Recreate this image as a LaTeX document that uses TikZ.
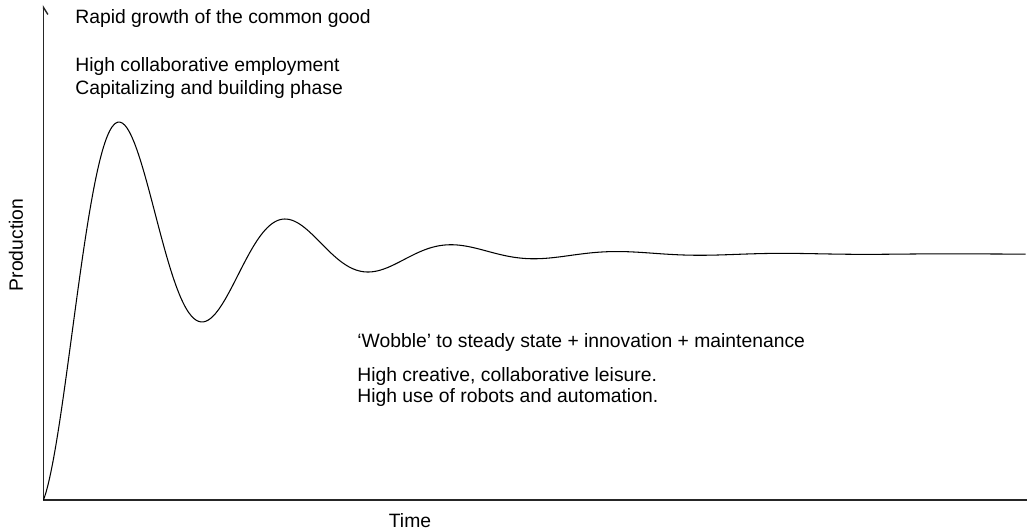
\documentclass[tikz,border=0pt]{standalone}
\usepackage{fontspec}
\setmainfont{Liberation Sans}
\usetikzlibrary{positioning,arrows.meta}

\tikzset{
  note/.style={anchor=west, inner sep=0pt, font=\fontsize{11}{13}\selectfont},
  axis/.style={line width=0.8pt, draw=black!85}
}

\begin{document}
\begin{tikzpicture}[x=0.02cm, y=0.02cm, node distance=0.46cm]
        \useasboundingbox (-43.5,-31) rectangle (983.5,500);

        % Axes
        \coordinate (origin) at (0,0);
        \coordinate (ytop) at (0,495);
        \coordinate (xend) at (983.5,0);
        \draw[axis, -{Straight Barb[right, length=4pt, width=5pt]}] (origin) -- (ytop);
        \draw[axis] (origin) -- (xend);

        % Axis labels
        \node[note, anchor=center] (time) at (366.5,-21) {Time};
        \node[note, anchor=center, rotate=90] (prod) at (-27.5,255) {Production};

        % Damped curve
        \draw[line width=0.6pt, domain=0:982, samples=400, smooth]
          plot (\x, {246 - 246.7*exp(-0.0080*\x)*cos(2.1687*(\x+2))});

        % Early phase
        \node[note] (growth) at (31.5,481) {Rapid growth of the common good};
        \node[note, below=0.96cm of growth.west, anchor=west] (employ) {High collaborative employment};
        \node[note, below=of employ.west, anchor=west] (capital) {Capitalizing and building phase};

        % Steady state
        \node[note] (wobble) at (313.5,157) {`Wobble' to steady state + innovation + maintenance};
        \node[note, below=0.68cm of wobble.west, anchor=west] (leisure) {High creative, collaborative leisure.};
        \node[note, below=0.42cm of leisure.west, anchor=west] (robots) {High use of robots and automation.};
\end{tikzpicture}
\end{document}
